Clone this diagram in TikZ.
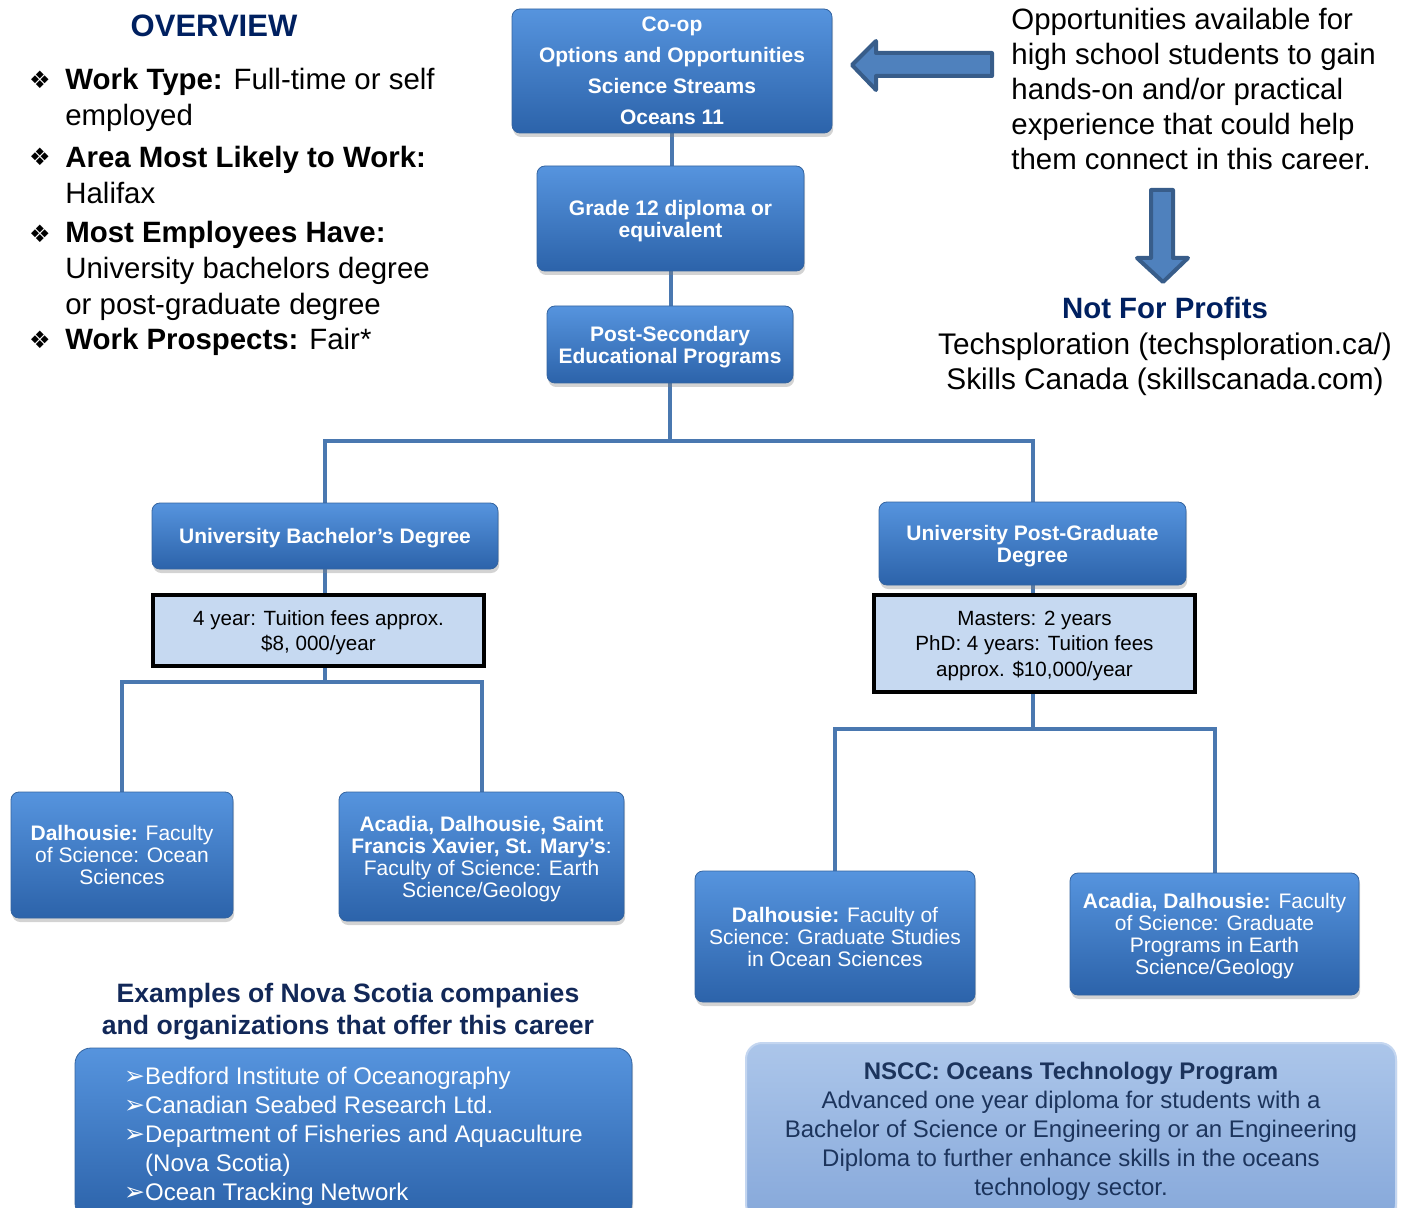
\documentclass[tikz,border=0pt]{standalone}
\usepackage{fontspec}
\setmainfont{Liberation Sans}
\newfontfamily\dejavu{DejaVu Sans}
\usetikzlibrary{shadows,backgrounds}
\definecolor{boxtop}{RGB}{86,148,222}
\definecolor{boxbot}{RGB}{44,99,170}
\definecolor{boxedge}{RGB}{52,100,160}
\definecolor{conn}{RGB}{74,120,176}
\definecolor{tuit}{RGB}{198,217,241}
\definecolor{navy}{RGB}{0,32,96}
\definecolor{navytwo}{RGB}{18,40,88}
\definecolor{nstop}{RGB}{172,198,234}
\definecolor{nsbot}{RGB}{134,168,218}
\definecolor{nsedge}{RGB}{196,214,240}
\definecolor{nstext}{RGB}{28,52,92}
\definecolor{arrfill}{RGB}{79,129,189}
\definecolor{arredge}{RGB}{56,93,138}
\newcommand\myfs[2]{\fontsize{#1}{#2}\selectfont}
\newcommand\diabul{{\dejavu\fontsize{12}{12}\selectfont ❖}}
\newcommand\arrbul{{\dejavu\fontsize{12.5}{12.5}\selectfont ➢}}
\begin{document}
\begin{tikzpicture}[x=0.5pt,y=-0.5pt,
  bluebox/.style={rounded corners=4pt, draw=boxedge, line width=0.4pt,
    top color=boxtop, bottom color=boxbot,
    drop shadow={shadow xshift=0.6pt, shadow yshift=-2pt, opacity=0.35},
    text=white, align=center, inner sep=0pt, text depth=0pt},
  boldfont/.style={font=\bfseries\myfs{10.5}{11}},
  regfont/.style={font=\myfs{10.5}{11}},
  tuitbox/.style={draw=black, line width=1.8pt, fill=tuit, align=center,
    inner sep=0pt, text depth=0pt, font=\myfs{10.3}{12.8}},
  conline/.style={draw=conn, line width=2pt},
  bodytext/.style={inner sep=0pt, font=\myfs{14.7}{17.5}},
  itemtext/.style={inner sep=0pt, font=\myfs{14.7}{18}, anchor=west, align=left},
  bigarrow/.style={fill=arrfill, draw=arredge, line width=2pt, line join=round},
  nsbox/.style={rounded corners=8pt, draw=nsedge, line width=1pt,
    top color=nstop, bottom color=nsbot,
    drop shadow={shadow xshift=0.6pt, shadow yshift=-2pt, opacity=0.3},
    text=nstext, align=center, inner sep=0pt, font=\myfs{12}{14.5}}
]
\useasboundingbox (0,0) rectangle (1408,1208);

% ---- central column ----
\node[bluebox, boldfont, font=\bfseries\myfs{10.5}{15.5}, minimum width=160pt, minimum height=62pt] (coop) at (672,71)
  {Co-op\\Options and Opportunities\\Science Streams\\Oceans 11};
\node[bluebox, boldfont, minimum width=133.5pt, minimum height=52.5pt] (grade) at (670.5,218.5)
  {Grade 12 diploma or\\equivalent};
\node[bluebox, boldfont, minimum width=123pt, minimum height=38.5pt] (post) at (670,344.5)
  {Post-Secondary\\Educational Programs};

% ---- bachelor branch ----
\node[bluebox, boldfont, minimum width=173pt, minimum height=33pt] (bach) at (325,536)
  {University Bachelor’s Degree};
\node[tuitbox, minimum width=165.5pt, minimum height=35.5pt] (t1) at (318.5,630.5)
  {4 year: Tuition fees approx.\\\$8, 000/year};
\node[bluebox, regfont, minimum width=111pt, minimum height=63pt] (dal1) at (122,855)
  {\textbf{Dalhousie:} Faculty\\of Science: Ocean\\Sciences};
\node[bluebox, regfont, minimum width=142.5pt, minimum height=64.5pt] (ac1) at (481.5,856.5)
  {\textbf{Acadia, Dalhousie, Saint}\\\textbf{Francis Xavier, St. Mary’s}:\\Faculty of Science: Earth\\Science/Geology};

% ---- post-graduate branch ----
\node[bluebox, boldfont, minimum width=153.5pt, minimum height=41.5pt] (pg) at (1032.5,543.5)
  {University Post-Graduate\\Degree};
\node[tuitbox, minimum width=160.5pt, minimum height=48.5pt] (t2) at (1034.5,643.5)
  {Masters: 2 years\\PhD: 4 years: Tuition fees\\approx. \$10,000/year};
\node[bluebox, regfont, minimum width=140pt, minimum height=65.5pt] (dal2) at (835,936.5)
  {\textbf{Dalhousie:} Faculty of\\Science: Graduate Studies\\in Ocean Sciences};
\node[bluebox, regfont, minimum width=144.5pt, minimum height=61pt] (ac2) at (1214.5,934)
  {\textbf{Acadia, Dalhousie:} Faculty\\of Science: Graduate\\Programs in Earth\\Science/Geology};

% ---- connectors ----
\begin{scope}[on background layer]
\draw[conline] (coop.south) -- (coop.south |- grade.north);
\draw[conline] (grade.south) -- (grade.south |- post.north);
\draw[conline] (post.south) -- ++(0,58) -| (bach.north);
\draw[conline] (post.south) -- ++(0,58) -| (pg.north);
\draw[conline] (bach.south) -- (bach.south |- t1.north);
\draw[conline] (bach.south |- t1.south) -- ++(0,14) -| (dal1.north);
\draw[conline] (bach.south |- t1.south) -- ++(0,14) -| (ac1.north);
\draw[conline] (pg.south) -- (pg.south |- t2.north);
\draw[conline] (pg.south |- t2.south) -- ++(0,35) -| (dal2.north);
\draw[conline] (pg.south |- t2.south) -- ++(0,35) -| (ac2.north);
\end{scope}

% ---- overview ----
\node[inner sep=0pt, text=navy, font=\bfseries\myfs{15.5}{18}] (ovt) at (214,26) {OVERVIEW};
\node[inner sep=0pt] (b1) at (40,80) {\diabul};
\node[inner sep=0pt] (b2) at (40,157) {\diabul};
\node[inner sep=0pt] (b3) at (40,234) {\diabul};
\node[inner sep=0pt] (b4) at (40,340) {\diabul};
\node[itemtext] (it1) at (65,99.5) {\textbf{Work Type:} Full-time or self\\employed};
\node[itemtext] (it2) at (65,175) {\textbf{Area Most Likely to Work:}\\Halifax};
\node[itemtext] (it3) at (65,271) {\textbf{Most Employees Have:}\\University bachelors degree\\or post-graduate degree};
\node[itemtext] (it4) at (65,342) {\textbf{Work Prospects:} Fair*};

% ---- right side ----
\draw[bigarrow] (852,65) -- (876,41) -- (876,53) -- (992,53) -- (992,76) -- (876,76) -- (876,90) -- cycle;
\node[bodytext, anchor=west, align=left] (opp) at (1011,88.5)
  {Opportunities available for\\high school students to gain\\hands-on and/or practical\\experience that could help\\them connect in this career.};
\draw[bigarrow] (1151,190) -- (1173,190) -- (1173,258) -- (1188,258) -- (1163,282) -- (1137,258) -- (1151,258) -- cycle;
\node[inner sep=0pt, text=navy, font=\bfseries\myfs{14.7}{17}] (nfp) at (1165,308) {Not For Profits};
\node[inner sep=0pt, align=center, font=\myfs{14.9}{17.5}] (nfpl) at (1165,364)
  {Techsploration (techsploration.ca/)\\Skills Canada (skillscanada.com)};

% ---- bottom ----
\node[inner sep=0pt, align=center, text=navytwo, font=\bfseries\myfs{13.3}{16}] (ext) at (348,1012)
  {Examples of Nova Scotia companies\\and organizations that offer this career};
\node[bluebox, rounded corners=8pt, align=left, font=\myfs{12}{14.5}, minimum width=278.5pt, minimum height=85.5pt] (comp) at (353.5,1133.5)
  {\arrbul Bedford Institute of Oceanography\\\arrbul Canadian Seabed Research Ltd.\\\arrbul Department of Fisheries and Aquaculture\\\hphantom{\arrbul}(Nova Scotia)\\\arrbul Ocean Tracking Network};
\node[nsbox, minimum width=325pt, minimum height=88.5pt] (nscc) at (1071,1131.5)
  {\textbf{NSCC: Oceans Technology Program}\\Advanced one year diploma for students with a\\Bachelor of Science or Engineering or an Engineering\\Diploma to further enhance skills in the oceans\\technology sector.};
\end{tikzpicture}
\end{document}
